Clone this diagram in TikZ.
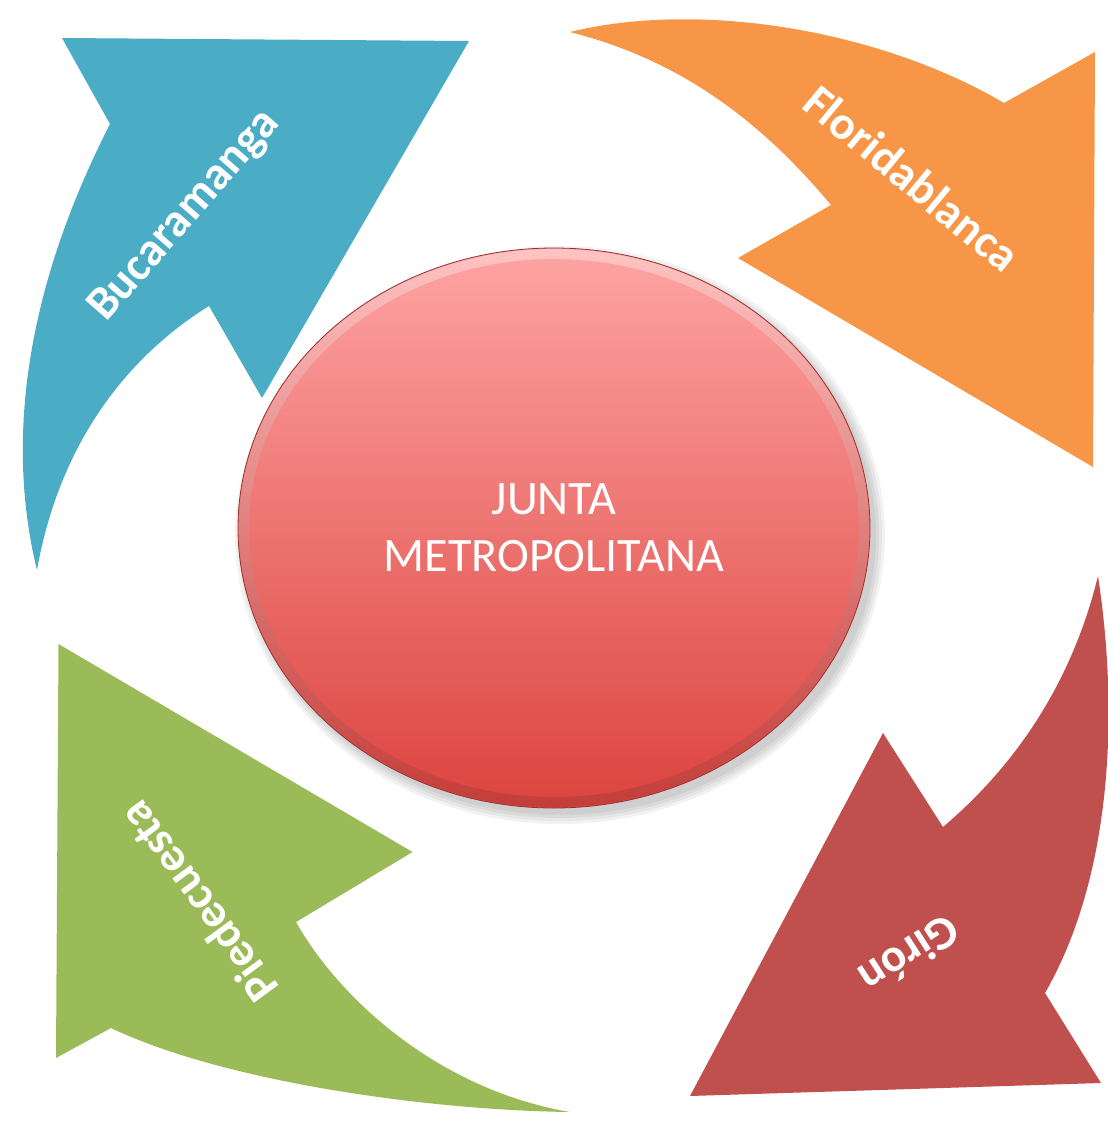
\documentclass[tikz,border=0pt]{standalone}
\usepackage{fontspec}
\setmainfont{Carlito}
\usetikzlibrary{shapes.geometric}
\definecolor{cblue}{RGB}{75,172,198}
\definecolor{corange}{RGB}{247,150,70}
\definecolor{cgreen}{RGB}{155,187,89}
\definecolor{cred}{RGB}{192,80,77}
\definecolor{ctop}{RGB}{254,164,163}
\definecolor{cmid}{RGB}{242,126,123}
\definecolor{cbot}{RGB}{220,68,63}
\definecolor{crim}{RGB}{150,50,48}
\begin{document}
\begin{tikzpicture}[x=0.5pt,y=-0.5pt,
  arrowlabel/.style={text=white,font=\bfseries\fontsize{23.5}{28}\selectfont,inner sep=0pt},
  hub/.style={ellipse, minimum width=316pt, minimum height=280pt, inner sep=0pt,
    top color=ctop, middle color=cmid, bottom color=cbot, draw=crim, line width=0.4pt,
    text=white, align=center, font=\fontsize{24}{28.5}\selectfont},
  shadowlayer/.style={fill=black, opacity=0.05}]
\useasboundingbox (0,0) rectangle (1108,1126);
% blue arrow
\fill[cblue] (62,38) -- (469,41) -- (262,398) -- (209,306)
  .. controls (130,355) and (60,440) .. (37,570)
  .. controls (10,460) and (15,310) .. (110,124) -- cycle;
% orange arrow
\fill[corange] (570,32) .. controls (700,0) and (880,30) .. (1004,103)
  -- (1095,52) -- (1093,467) -- (738,258) -- (831,205)
  .. controls (760,120) and (680,60) .. (570,32) -- cycle;
% red arrow
\fill[cred] (1098,576) .. controls (1120,720) and (1110,880) .. (1045,993)
  -- (1101,1083) -- (690,1096) -- (883,733) -- (943,827)
  .. controls (1010,770) and (1070,690) .. (1098,576) -- cycle;
% green arrow
\fill[cgreen] (58.5,644) -- (412.5,852) -- (296,922)
  .. controls (340,1000) and (440,1090) .. (570,1112)
  .. controls (420,1110) and (220,1080) .. (111,1028)
  -- (56,1058) -- cycle;
% shadow of the hub
\foreach \r in {0,3,6,9}{
  \fill[shadowlayer] (560,535) ellipse [x radius=316+\r, y radius=280+\r];
}
\node[hub] (hub) at (554,528) {JUNTA\\METROPOLITANA};
% bevel ring
\shade[even odd rule, top color=white, bottom color=crim, opacity=0.35]
  (554,528) ellipse [x radius=315, y radius=279]
  (554,528) ellipse [x radius=305, y radius=269];
% labels
\node[arrowlabel, rotate=48.8] (bucaramanga) at (185,216) {Bucaramanga};
\node[arrowlabel, rotate=-39.5] (floridablanca) at (912,178) {Floridablanca};
\node[arrowlabel, rotate=-147.3] (giron) at (910,955) {Girón};
\node[arrowlabel, rotate=126.2] (piedecuesta) at (198,902) {Piedecuesta};
\end{tikzpicture}
\end{document}
